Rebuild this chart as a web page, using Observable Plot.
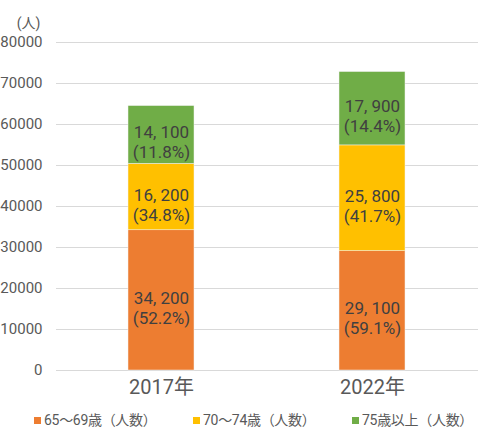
<!DOCTYPE html>
<html>
<head>
<meta charset="utf-8">
<script src="https://cdn.jsdelivr.net/npm/d3@7"></script>
<script src="https://cdn.jsdelivr.net/npm/@observablehq/plot@0.6"></script>
<style>
  body { margin: 0; background: #fff; font-family: "Noto Sans CJK JP", "Noto Sans", sans-serif; }
  #wrap { position: relative; width: 478px; height: 432px; overflow: hidden; }
  #legend { position: absolute; left: 0; top: 408px; width: 478px; height: 24px; font-size: 14px; color: #595959; font-family: Roboto, "Noto Sans CJK JP", sans-serif; }
  #legend .item { position: absolute; top: 0; white-space: nowrap; line-height: 24px; letter-spacing: -0.3px; }
  #legend .sw { display: inline-block; width: 7px; height: 7px; margin-right: 3px; vertical-align: 1px; }
</style>
</head>
<body>
<div id="wrap"><div id="chart"></div><div id="legend"></div></div>
<script>
const years = ["2017年", "2022年"];
const groups = ["65～69歳（人数）", "70～74歳（人数）", "75歳以上（人数）"];
const colors = ["#ED7D31", "#FFC000", "#70AD47"];
const v6569 = [34200, 29100];
const v7074 = [16200, 25800];
const v75 = [14100, 17900];
const pct6569 = ["52.2%", "59.1%"];
const pct7074 = ["34.8%", "41.7%"];
const pct75 = ["11.8%", "14.4%"];
const yTicks = [0, 10000, 20000, 30000, 40000, 50000, 60000, 70000, 80000];
const yUnit = "(人)";

const series = [v6569, v7074, v75];
const pcts = [pct6569, pct7074, pct75];
const rows = [];
years.forEach((y, i) => {
  groups.forEach((g, j) => {
    rows.push({year: y, group: g, value: series[j][i],
      num: d3.format(",")(series[j][i]).replace(",", ", "),
      pct: "(" + pcts[j][i] + ")"});
  });
});

const font = "Roboto, 'Noto Sans CJK JP', sans-serif";
const chart = Plot.plot({
  width: 478,
  height: 405,
  marginLeft: 56,
  marginRight: 0,
  marginTop: 42,
  marginBottom: 35,
  style: {fontFamily: font, background: "#fff", overflow: "visible"},
  x: {domain: years, paddingInner: 0.687, paddingOuter: 0.3435, label: null, tickSize: 0, tickPadding: 8},
  y: {domain: [0, 80000], ticks: yTicks, label: null, tickSize: 0, tickPadding: 14, tickFormat: d => String(d)},
  color: {domain: groups, range: colors},
  marks: [
    Plot.gridY(yTicks, {stroke: "#d9d9d9", strokeOpacity: 1, strokeWidth: 1}),
    Plot.barY(rows, {x: "year", y: "value", fill: "group", order: null, stroke: "#f2f2f2", strokeWidth: 0.5}),
    Plot.text(rows, Plot.stackY({x: "year", y: "value", z: "group", order: null, text: "num",
      fill: "#404040", fontSize: 17, dy: -2})),
    Plot.text(rows, Plot.stackY({x: "year", y: "value", z: "group", order: null, text: "pct",
      fill: "#404040", fontSize: 17, dy: 18})),
    Plot.axisY({ticks: yTicks, tickSize: 0, tickPadding: 14, tickFormat: d => String(d), fontSize: 15, fill: "#595959", label: null}),
    Plot.axisX({tickSize: 0, tickPadding: 9, fontSize: 20, fill: "#595959", label: null}),
    Plot.text([yUnit], {frameAnchor: "top-left", dx: -28, dy: -24, fontSize: 14, fill: "#595959", textAnchor: "middle"})
  ]
});
document.getElementById("chart").appendChild(chart);

const leftPos = [34, 193, 352];
const legend = document.getElementById("legend");
groups.forEach((g, i) => {
  const it = document.createElement("div");
  it.className = "item";
  it.style.left = leftPos[i] + "px";
  it.innerHTML = `<span class="sw" style="background:${colors[i]}"></span>${g}`;
  legend.appendChild(it);
});
</script>
</body>
</html>
